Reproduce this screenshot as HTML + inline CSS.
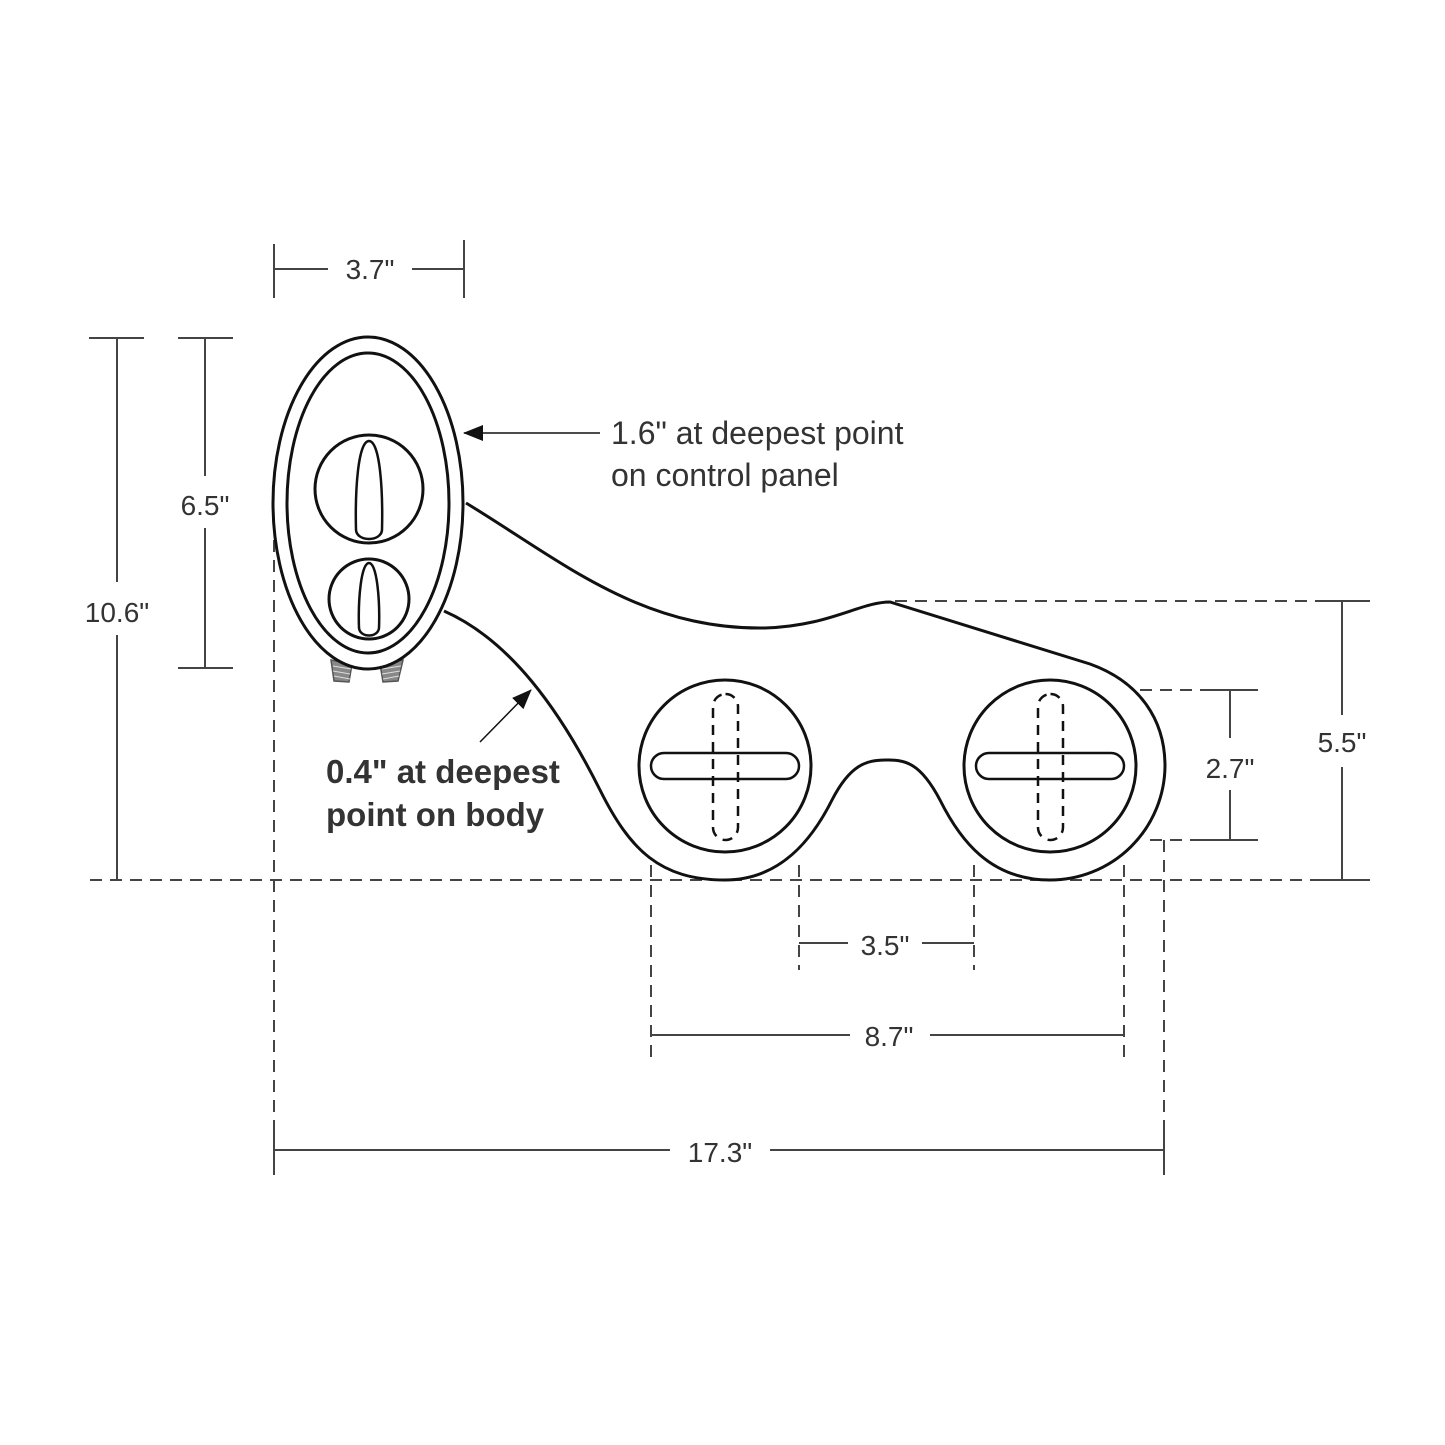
<!DOCTYPE html>
<html><head><meta charset="utf-8"><style>
html,body{margin:0;padding:0;background:#fff;}
svg{display:block;}
text{font-family:"Liberation Sans",sans-serif;fill:#333;}
</style></head><body>
<svg width="1445" height="1445" viewBox="0 0 1445 1445" xmlns="http://www.w3.org/2000/svg">
<defs>
<marker id="ah2" markerWidth="20" markerHeight="16" refX="19" refY="8" orient="auto" markerUnits="userSpaceOnUse"><path d="M0,0 L20,8 L0,16 Z" fill="#111"/></marker>
</defs>
<g stroke="#444" stroke-width="2" fill="none">
<g stroke-dasharray="12,8">
<line x1="90" y1="880" x2="1370" y2="880"/>
<line x1="274" y1="540" x2="274" y2="1175"/>
<line x1="1164" y1="840" x2="1164" y2="1175"/>
<line x1="651" y1="865" x2="651" y2="1060"/>
<line x1="1124" y1="865" x2="1124" y2="1060"/>
<line x1="799" y1="865" x2="799" y2="970"/>
<line x1="974" y1="865" x2="974" y2="970"/>
<line x1="895" y1="601" x2="1370" y2="601"/>
<line x1="1140" y1="690" x2="1258" y2="690"/>
<line x1="1150" y1="840" x2="1258" y2="840"/>
</g>
<line x1="274" y1="244" x2="274" y2="298"/><line x1="464" y1="240" x2="464" y2="298"/>
<line x1="274" y1="269" x2="328" y2="269"/><line x1="412" y1="269" x2="464" y2="269"/>
<line x1="89" y1="338" x2="144" y2="338"/><line x1="117" y1="338" x2="117" y2="582"/><line x1="117" y1="635" x2="117" y2="880"/>
<line x1="178" y1="338" x2="233" y2="338"/><line x1="178" y1="668" x2="233" y2="668"/>
<line x1="205" y1="338" x2="205" y2="476"/><line x1="205" y1="528" x2="205" y2="668"/>
<line x1="274" y1="1150" x2="670" y2="1150"/><line x1="770" y1="1150" x2="1164" y2="1150"/>
<line x1="274" y1="1125" x2="274" y2="1175"/><line x1="1164" y1="1125" x2="1164" y2="1175"/>
<line x1="651" y1="1035" x2="850" y2="1035"/><line x1="930" y1="1035" x2="1124" y2="1035"/>
<line x1="799" y1="943" x2="848" y2="943"/><line x1="922" y1="943" x2="974" y2="943"/>
<line x1="1315" y1="601" x2="1370" y2="601"/><line x1="1315" y1="880" x2="1370" y2="880"/>
<line x1="1342" y1="601" x2="1342" y2="715"/><line x1="1342" y1="767" x2="1342" y2="880"/>
<line x1="1200" y1="690" x2="1258" y2="690"/><line x1="1200" y1="840" x2="1258" y2="840"/>
<line x1="1230" y1="690" x2="1230" y2="738"/><line x1="1230" y1="790" x2="1230" y2="840"/>
</g>
<g stroke="#111" stroke-width="3" fill="none">
<path d="M466,503 C560,560 640,630 765,628 C830,626 860,602 890,602 L1090,664 C1140,682 1165,720 1165,766 A115,115 0 0 1 1050,880 C990,880 960,840 940,800 C920,762 905,760 886,760 C866,760 850,765 832,800 C812,840 780,880 725,880 C660,880 630,850 600,790 C560,710 510,640 444,611"/>
<circle cx="725" cy="766" r="86"/>
<circle cx="1050" cy="766" r="86"/>
<rect x="651" y="753" width="148" height="26" rx="13" stroke-width="2.5"/>
<rect x="976" y="753" width="148" height="26" rx="13" stroke-width="2.5"/>
<rect x="713" y="694" width="25" height="146" rx="12.5" stroke-width="2.5" stroke-dasharray="10,7"/>
<rect x="1038" y="694" width="25" height="146" rx="12.5" stroke-width="2.5" stroke-dasharray="10,7"/>
<g stroke="#555" stroke-width="1.5" fill="#888">
<path d="M331,660 L352,664 L349,682 L334,681 Z"/>
<path d="M380,664 L403,660 L398,681 L383,682 Z"/>
</g>
<g stroke="#ddd" stroke-width="1">
<line x1="333" y1="666" x2="351" y2="669"/><line x1="333" y1="671" x2="350" y2="674"/><line x1="334" y1="676" x2="350" y2="679"/>
<line x1="382" y1="669" x2="401" y2="666"/><line x1="382" y1="674" x2="400" y2="671"/><line x1="383" y1="679" x2="399" y2="676"/>
</g>
<ellipse cx="368" cy="503" rx="95" ry="166" fill="#fff"/>
<ellipse cx="368" cy="503" rx="81" ry="150"/>
<circle cx="369" cy="489" r="54"/>
<circle cx="369" cy="599" r="40"/>
<path d="M369,441 C380,441 383,490 382,530 C381,542 357,542 356,530 C355,490 358,441 369,441 Z" stroke-width="2.5"/>
<path d="M369,563 C377,563 380,600 379,628 C378,638 360,638 359,628 C358,600 361,563 369,563 Z" stroke-width="2.5"/>
</g>
<line x1="600" y1="433" x2="464" y2="433" stroke="#111" stroke-width="1.5" marker-end="url(#ah2)"/>
<line x1="480" y1="742" x2="531" y2="690" stroke="#111" stroke-width="1.5" marker-end="url(#ah2)"/>
<g font-size="28" text-anchor="middle">
<text x="370" y="279">3.7"</text>
<text x="117" y="622">10.6"</text>
<text x="205" y="515">6.5"</text>
<text x="720" y="1162">17.3"</text>
<text x="889" y="1046">8.7"</text>
<text x="885" y="955">3.5"</text>
<text x="1342" y="752">5.5"</text>
<text x="1230" y="778">2.7"</text>
</g>
<g font-size="32">
<text x="611" y="444">1.6" at deepest point</text>
<text x="611" y="486">on control panel</text>
<text x="326" y="783" font-size="33" font-weight="bold">0.4" at deepest</text>
<text x="326" y="826" font-size="33" font-weight="bold">point on body</text>
</g>
</svg>
</body></html>
